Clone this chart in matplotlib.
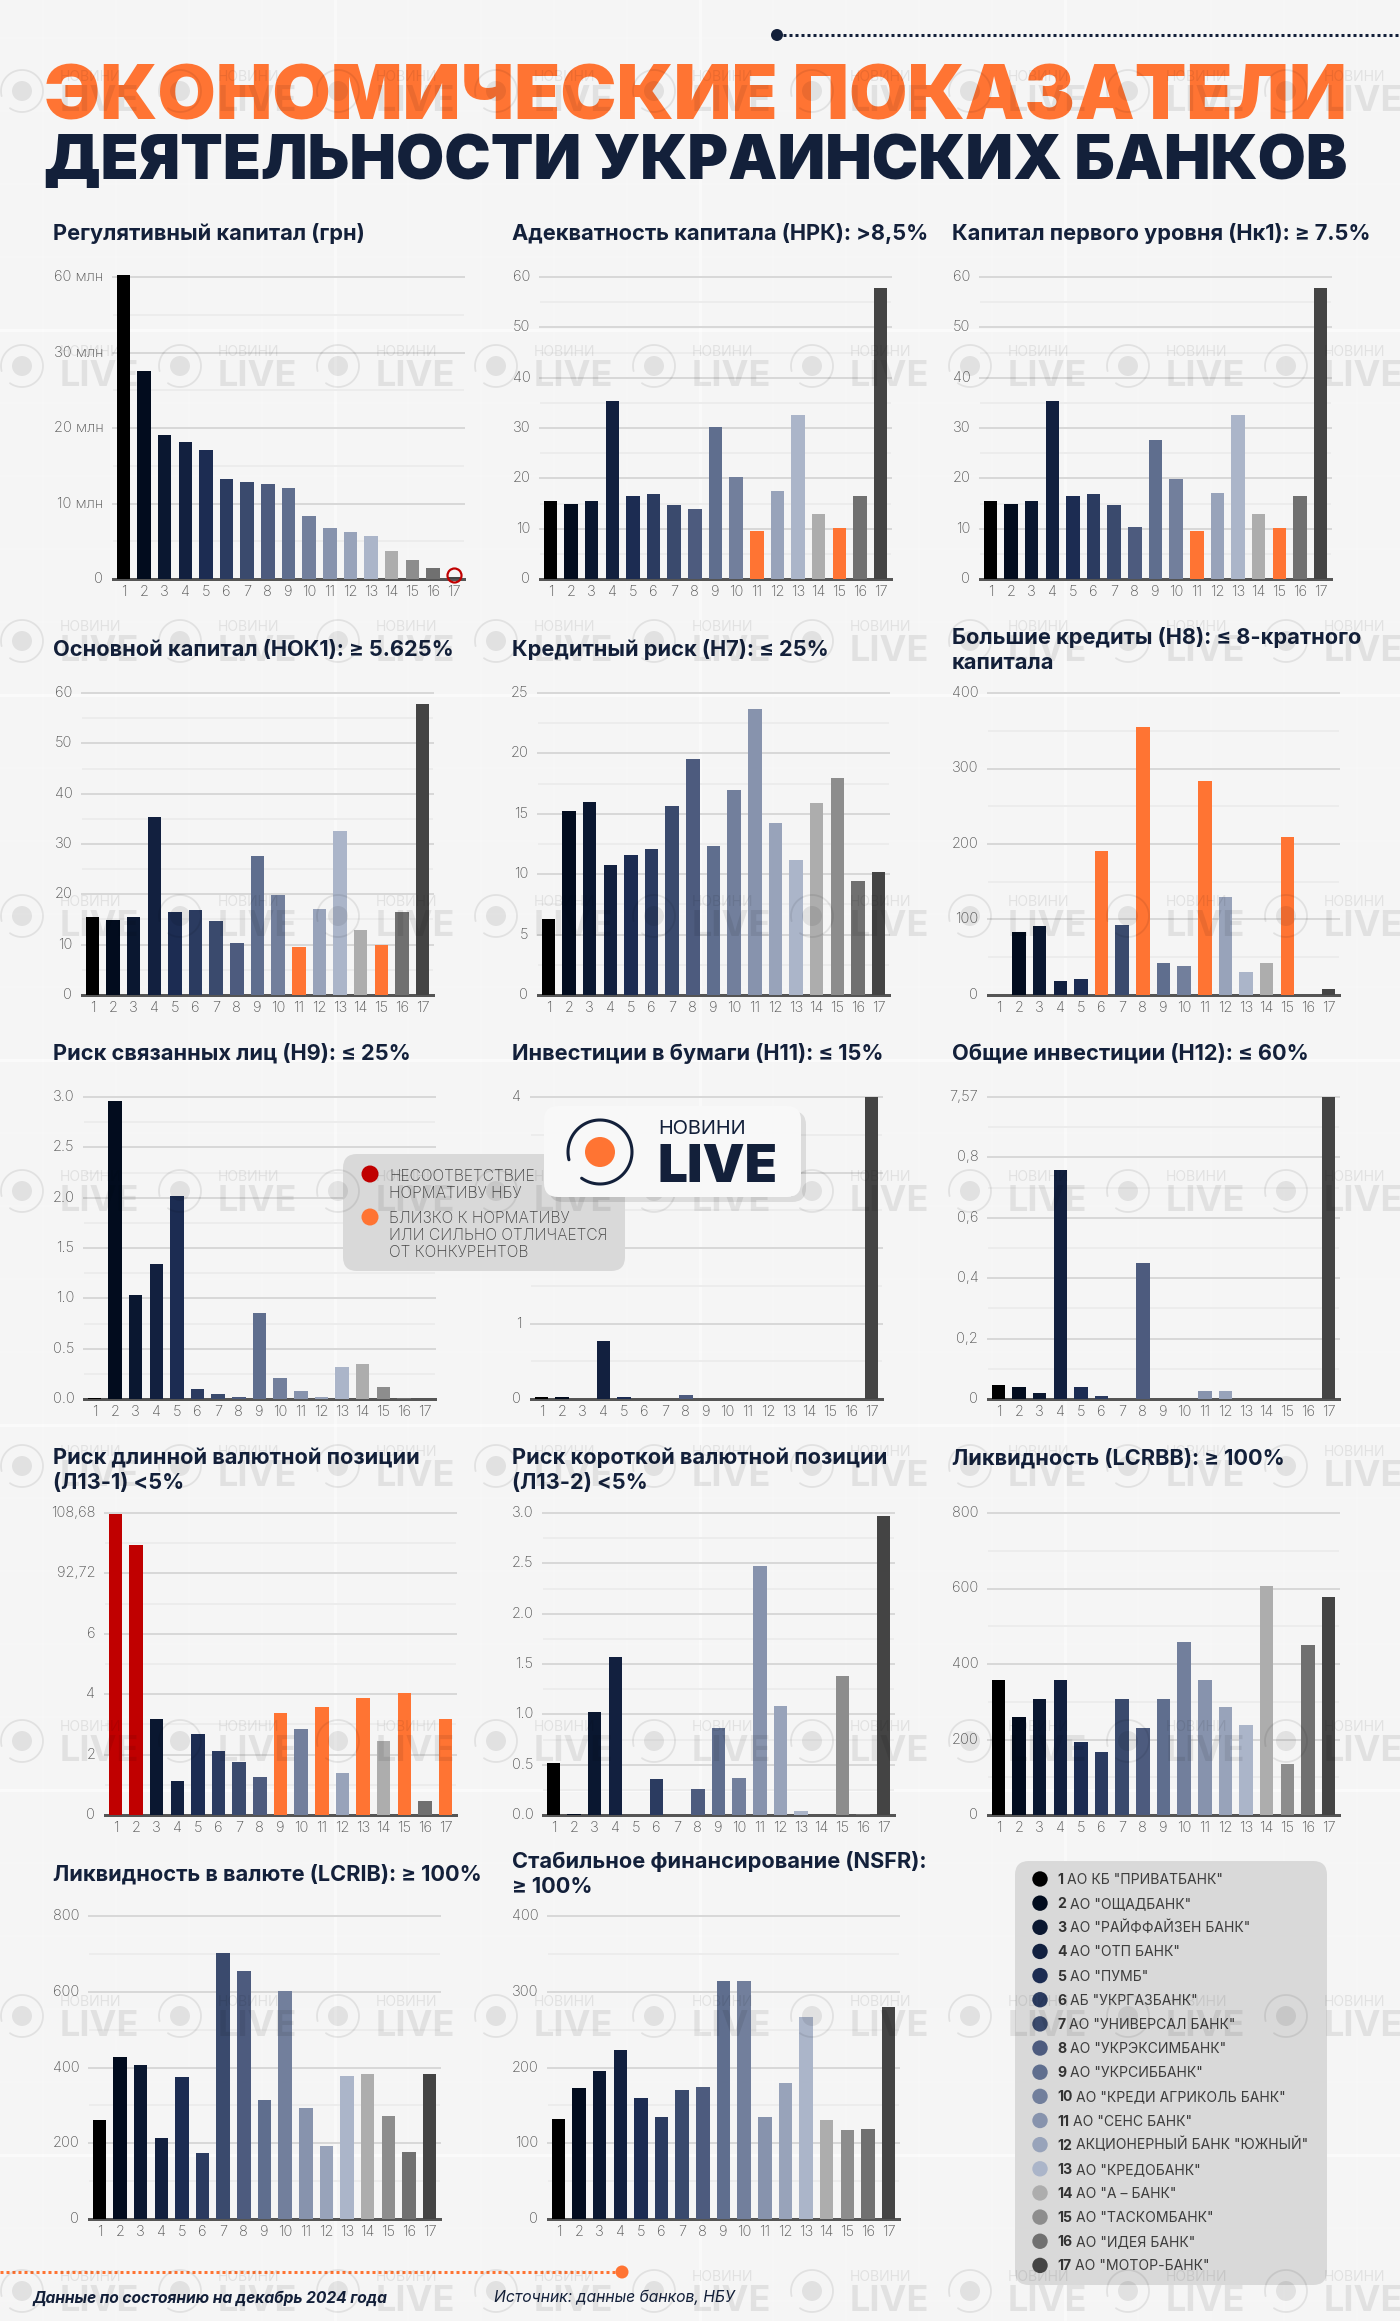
import numpy as np
import matplotlib
matplotlib.use("Agg")
from matplotlib import pyplot as plt
from matplotlib.patches import Circle, FancyBboxPatch
from matplotlib.ticker import FixedLocator
from matplotlib.transforms import ScaledTranslation

FONT = "Inter"
plt.rcParams["font.family"] = [FONT, "Noto Sans", "DejaVu Sans"]

ORANGE = "#ff7433"
RED = "#c00000"
NAVY = "#13203a"
BG = "#f5f5f5"

bar_colors = ["#000000", "#020c1e", "#0a1730", "#12203f", "#1c2c52", "#2b3b60",
              "#3a4a6d", "#4d5b7e", "#5f6e8e", "#727f9c", "#8793ad", "#98a3ba",
              "#abb5c9", "#adadad", "#8d8d8d", "#707070", "#444444"]

bank_numbers = [str(i) for i in range(1, 18)]
bank_names = ['АО КБ "ПРИВАТБАНК"', 'АО "ОЩАДБАНК"', 'АО "РАЙФФАЙЗЕН БАНК"', 'АО "ОТП БАНК"',
              'АО "ПУМБ"', 'АБ "УКРГАЗБАНК"', 'АО "УНИВЕРСАЛ БАНК"', 'АО "УКРЭКСИМБАНК"',
              'АО "УКРСИББАНК"', 'АО "КРЕДИ АГРИКОЛЬ БАНК"', 'АО "СЕНС БАНК"',
              'АКЦИОНЕРНЫЙ БАНК "ЮЖНЫЙ"', 'АО "КРЕДОБАНК"', 'АО "А – БАНК"',
              'АО "ТАСКОМБАНК"', 'АО "ИДЕЯ БАНК"', 'АО "МОТОР-БАНК"']

# values, on the scale of each panel's own y axis
reg_capital = [40.3, 27.6, 19.1, 18.1, 17.1, 13.25, 12.8, 12.6, 12.1, 8.4, 6.75, 6.2, 5.75, 3.7, 2.5, 1.4, 0.3]
nrk = [15.4, 14.9, 15.4, 35.4, 16.4, 16.9, 14.7, 13.9, 30.1, 20.3, 9.6, 17.4, 32.5, 13.0, 10.05, 16.4, 57.9]
nk1 = [15.4, 14.9, 15.4, 35.4, 16.4, 16.9, 14.7, 10.4, 27.7, 19.9, 9.6, 17.1, 32.5, 13.0, 10.05, 16.4, 57.9]
nok1 = [15.4, 14.9, 15.4, 35.4, 16.4, 16.9, 14.7, 10.3, 27.6, 19.8, 9.5, 17.1, 32.5, 13.0, 10.0, 16.4, 57.9]
h7 = [6.3, 15.26, 15.98, 10.8, 11.6, 12.1, 15.67, 19.54, 12.3, 17.0, 23.7, 14.27, 11.2, 15.87, 18.0, 9.46, 10.15]
h8 = [0, 83, 91.4, 18, 21, 190.7, 93, 354.5, 42.4, 39, 283, 130, 31, 42.4, 209.7, 0, 8.4]
h9 = [0.01, 2.957, 1.03, 1.346, 2.02, 0.10, 0.05, 0.015, 0.85, 0.21, 0.075, 0.02, 0.32, 0.345, 0.115, 0.005, 0]
h11 = [0.03, 0.02, 0, 0.765, 0.02, 0, 0, 0.055, 0, 0, 0, 0, 0, 0, 0, 0, 4.0]
h12 = [0.046, 0.039, 0.019, 0.758, 0.039, 0.009, 0, 0.449, 0, 0, 0.027, 0.027, 0, 0, 0, 0, 1.0]
l13_1 = [9.98, 8.95, 3.18, 1.14, 2.69, 2.12, 1.755, 1.27, 3.39, 2.86, 3.59, 1.39, 3.87, 2.44, 4.03, 0.45, 3.18]
l13_2 = [0.513, 0.013, 1.026, 1.573, 0, 0.358, 0, 0.258, 0.867, 0.368, 2.477, 1.086, 0.036, 0, 1.38, 0.005, 2.967]
lcrbb = [358.5, 260.5, 306.4, 358.5, 192.5, 166, 306.4, 231, 306.4, 459, 358.5, 287, 237.5, 606, 134, 449.5, 576.6]
lcrib = [261, 427, 407, 215, 375, 173, 703, 654, 313, 602, 294, 192, 377, 382, 271, 176, 384]
nsfr = [132, 173, 196, 223, 160, 135, 170, 174, 314, 314, 134, 179, 267, 130.5, 118, 119, 280]

ticks_reg = [0, 10, 20, 30, 40]
labels_reg = ["0", "10 млн", "20 млн", "30 млн", "60 млн"]
ticks_60 = [0, 10, 20, 30, 40, 50, 60]
ticks_25 = [0, 5, 10, 15, 20, 25]
ticks_3 = [0, 0.5, 1.0, 1.5, 2.0, 2.5, 3.0]
labels_3 = ["0.0", "0.5", "1.0", "1.5", "2.0", "2.5", "3.0"]
ticks_400 = [0, 100, 200, 300, 400]
ticks_800 = [0, 200, 400, 600, 800]
ticks_4 = [0, 1, 2, 3, 4]
ticks_h12 = [0, 0.2, 0.4, 0.6, 0.8, 1.0]
labels_h12 = ["0", "0,2", "0,4", "0,6", "0,8", "7,57"]
ticks_l13 = [0, 2, 4, 6, 8, 10]
labels_l13 = ["0", "2", "4", "6", "92,72", "108,68"]

# title lines, values, ticks, tick labels, orange bars, red bars
panels = [
    (["Регулятивный капитал (грн)"], reg_capital, ticks_reg, labels_reg, [], []),
    (["Адекватность капитала (НРК): >8,5%"], nrk, ticks_60, None, [11, 15], []),
    (["Капитал первого уровня (Нк1): ≥ 7.5%"], nk1, ticks_60, None, [11, 15], []),
    (["Основной капитал (НОК1): ≥ 5.625%"], nok1, ticks_60, None, [11, 15], []),
    (["Кредитный риск (Н7): ≤ 25%"], h7, ticks_25, None, [], []),
    (["Большие кредиты (Н8): ≤ 8-кратного", "капитала"], h8, ticks_400, None, [6, 8, 11, 15], []),
    (["Риск связанных лиц (Н9): ≤ 25%"], h9, ticks_3, labels_3, [], []),
    (["Инвестиции в бумаги (Н11): ≤ 15%"], h11, ticks_4, None, [], []),
    (["Общие инвестиции (Н12): ≤ 60%"], h12, ticks_h12, labels_h12, [], []),
    (["Риск длинной валютной позиции", "(Л13-1) <5%"], l13_1, ticks_l13, labels_l13, [9, 11, 13, 15, 17], [1, 2]),
    (["Риск короткой валютной позиции", "(Л13-2) <5%"], l13_2, ticks_3, labels_3, [], []),
    (["Ликвидность (LCRBB): ≥ 100%"], lcrbb, ticks_800, None, [], []),
    (["Ликвидность в валюте (LCRIB): ≥ 100%"], lcrib, ticks_800, None, [], []),
    (["Стабильное финансирование (NSFR):", "≥ 100%"], nsfr, ticks_400, None, [], []),
]

# layout in pixels: left edge of plot, top gridline, baseline, title x, title first baseline
layout = [
    (113, 277, 579, 53, 240), (540, 277, 579, 512, 240), (980, 277, 579, 952, 240),
    (82, 693, 995, 53, 656), (538, 693, 995, 512, 656), (988, 693, 995, 952, 644),
    (84, 1097, 1399, 53, 1060), (531, 1097, 1399, 512, 1060), (988, 1097, 1399, 952, 1060),
    (105, 1513, 1815, 53, 1464), (543, 1513, 1815, 512, 1464), (988, 1513, 1815, 952, 1464),
    (89, 1916, 2219, 53, 1880), (548, 1916, 2219, 512, 1868),
]

W, H = 1400, 2321
fig = plt.figure(figsize=(W / 100, H / 100), dpi=100, facecolor=BG)
px = 0.72  # one pixel in points

# background grid of the template
ax_bg = fig.add_axes([0, 0, 1, 1], zorder=0)
ax_bg.set_xlim(0, W)
ax_bg.set_ylim(H, 0)
ax_bg.axis("off")
for k in range(-5, 30):
    strong = k % 5 == 0
    a = 0.6 if strong else 0.2
    lw = 3 * px if strong else 2 * px
    ax_bg.axhline(330 + 73 * k, color="white", alpha=a, lw=lw)
    ax_bg.axvline(335 + 73 * k, color="white", alpha=a * 0.7, lw=lw)

lift = ScaledTranslation(0, 1.5 / 100, fig.dpi_scale_trans)

for (title, values, ticks, labels, orange, red), (left, top, base, tx, ty) in zip(panels, layout):
    ax = fig.add_axes([left / W, 1 - base / H, 351 / W, (base - top) / H], zorder=1)
    ax.patch.set_alpha(0)
    colors = list(bar_colors)
    for i in orange:
        colors[i - 1] = ORANGE
    for i in red:
        colors[i - 1] = RED
    ax.bar(range(17), values, width=0.65, color=colors, clip_on=False, zorder=3)
    ax.set_xlim(-0.5, 16.5)
    ax.set_ylim(0, ticks[-1])
    ax.set_xticks(range(17))
    ax.set_xticklabels(bank_numbers)
    ax.set_yticks(ticks)
    ax.set_yticklabels(labels if labels else [str(t) for t in ticks])
    minor = [(a + b) / 2 for a, b in zip(ticks[:-1], ticks[1:])]
    ax.yaxis.set_minor_locator(FixedLocator(minor))
    ax.grid(axis="y", which="major", color="#d8d8d8", lw=2 * px, zorder=1)
    ax.grid(axis="y", which="minor", color="#ececec", lw=2 * px, zorder=1)
    for gl in ax.get_ygridlines():
        gl.set_clip_on(False)
    ax.tick_params(axis="both", which="both", length=0, labelsize=10.5, labelcolor="#555555")
    ax.tick_params(axis="x", pad=4)
    ax.tick_params(axis="y", pad=7)
    for lab in ax.get_xticklabels() + ax.get_yticklabels():
        lab.set_fontweight("light")
    for lab in ax.get_yticklabels():
        lab.set_transform(lab.get_transform() + lift)
    for side in ["top", "left", "right"]:
        ax.spines[side].set_visible(False)
    ax.spines["bottom"].set_color("#555555")
    ax.spines["bottom"].set_linewidth(3 * px)
    if values is reg_capital:
        # red ring sits just above the baseline around the smallest bar
        ax.plot([16], [0.55], marker="o", ms=14 * px, mfc="none", mec=RED, mew=2.2 * px, clip_on=False, zorder=4)

# everything drawn in page pixels
ax_top = fig.add_axes([0, 0, 1, 1], zorder=5)
ax_top.set_xlim(0, W)
ax_top.set_ylim(H, 0)
ax_top.axis("off")
ax_top.patch.set_alpha(0)
renderer = fig.canvas.get_renderer()


def ptxt(x, y, s, size, color=NAVY, weight="normal", style="normal", z=4, ha="left", alpha=None):
    return ax_top.text(x, y, s, fontsize=size, color=color, fontweight=weight, fontstyle=style,
                       ha=ha, va="baseline", zorder=z, alpha=alpha)


def fit(t, width):
    t.set_fontsize(t.get_fontsize() * width / t.get_window_extent(renderer).width)
    return t


def ring(cx, cy, r, color, lw, z, alpha=None):
    # open circle with its gap at lower left, like the logo
    th = np.radians(np.linspace(235, 194 + 360, 80))
    ax_top.plot(cx + r * np.cos(th), cy - r * np.sin(th), color=color, lw=lw, alpha=alpha, zorder=z,
                solid_capstyle="round")


def box(x0, y0, x1, y1, r, color, z, **kw):
    ax_top.add_patch(FancyBboxPatch((x0 + r, y0 + r), x1 - x0 - 2 * r, y1 - y0 - 2 * r,
                                    boxstyle="round,pad=%d,rounding_size=%d" % (r, r),
                                    fc=color, ec="none", zorder=z, **kw))


# page title
fit(ptxt(44, 120, "ЭКОНОМИЧЕСКИЕ ПОКАЗАТЕЛИ", 50, color=ORANGE, weight="black"), 1304)
fit(ptxt(44, 179, "ДЕЯТЕЛЬНОСТИ УКРАИНСКИХ БАНКОВ", 42, color=NAVY, weight="black"), 1305)

# top dotted line
ax_top.plot([777, W], [35, 35], color=NAVY, lw=3 * px, ls=(0, (1, 1)), zorder=4)
ax_top.add_patch(Circle((777, 35), 6, fc=NAVY, ec="none", zorder=4))

# panel titles
for (title, *_), (left, top, base, tx, ty) in zip(panels, layout):
    for n, line in enumerate(title):
        ptxt(tx, ty + 25 * n, line, 15.7, weight="bold")

# colour key over the middle row
box(343, 1154, 625, 1271, 14, "#d9d9d9", 5)
ax_top.add_patch(Circle((370, 1174), 8.5, fc=RED, ec="none", zorder=6))
ax_top.add_patch(Circle((370, 1217), 8.5, fc=ORANGE, ec="none", zorder=6))
for y, s in [(1181, "НЕСООТВЕТСТВИЕ"), (1198, "НОРМАТИВУ НБУ"), (1223, "БЛИЗКО К НОРМАТИВУ"),
             (1240, "ИЛИ СИЛЬНО ОТЛИЧАЕТСЯ"), (1257, "ОТ КОНКУРЕНТОВ")]:
    ptxt(389, y, s, 11.2, color="#444444", weight="light", z=6)

# bank list
box(1015, 1861, 1327, 2285, 14, "#d9d9d9", 5)
for i, (num, name) in enumerate(zip(bank_numbers, bank_names)):
    y = 1879 + 24.15 * i
    ax_top.add_patch(Circle((1040, y), 7.7, fc=bar_colors[i], ec="none", zorder=6))
    t = ptxt(1057, y + 5, num, 10.1, color="#333333", weight="bold", z=6)
    w = t.get_window_extent(renderer).width
    ptxt(1057 + w + 4, y + 5, name, 10.1, color="#3d3d3d", z=6)

# footer
ax_top.plot([0, 622], [2272, 2272], color=ORANGE, lw=3 * px, ls=(0, (1, 1)), zorder=4)
ax_top.add_patch(Circle((622, 2272), 6.5, fc=ORANGE, ec="none", zorder=4))
ptxt(33, 2303, "Данные по состоянию на декабрь 2024 года", 11.2, weight="bold", style="italic")
ptxt(494, 2302, "Источник: данные банков, НБУ", 11.3, style="italic")

# repeated watermark, over the charts
for wy in range(91, H, 275):
    for wx in range(22, W, 158):
        ring(wx, wy, 21, "black", 1.3, 10, alpha=0.08)
        ax_top.add_patch(Circle((wx, wy), 10, fc="black", ec="none", alpha=0.08, zorder=10))
        ptxt(wx + 38, wy - 10, "НОВИНИ", 10, color="black", z=10, alpha=0.08)
        ptxt(wx + 38, wy + 20, "LIVE", 26, color="black", weight="bold", z=10, alpha=0.08)

# logo badge
box(549, 1111, 806, 1202, 14, "#000000", 19, alpha=0.10)
box(544, 1106, 801, 1197, 14, "#f8f8f8", 20)
ring(600, 1152, 32, NAVY, 2.2, 21)
ax_top.add_patch(Circle((600, 1152), 15, fc=ORANGE, ec="none", zorder=21))
fit(ptxt(658, 1134, "НОВИНИ", 15, z=21), 88)
fit(ptxt(658, 1182, "LIVE", 40, weight="black", z=21), 120)

fig.savefig("out.png", dpi=100, facecolor=BG)
